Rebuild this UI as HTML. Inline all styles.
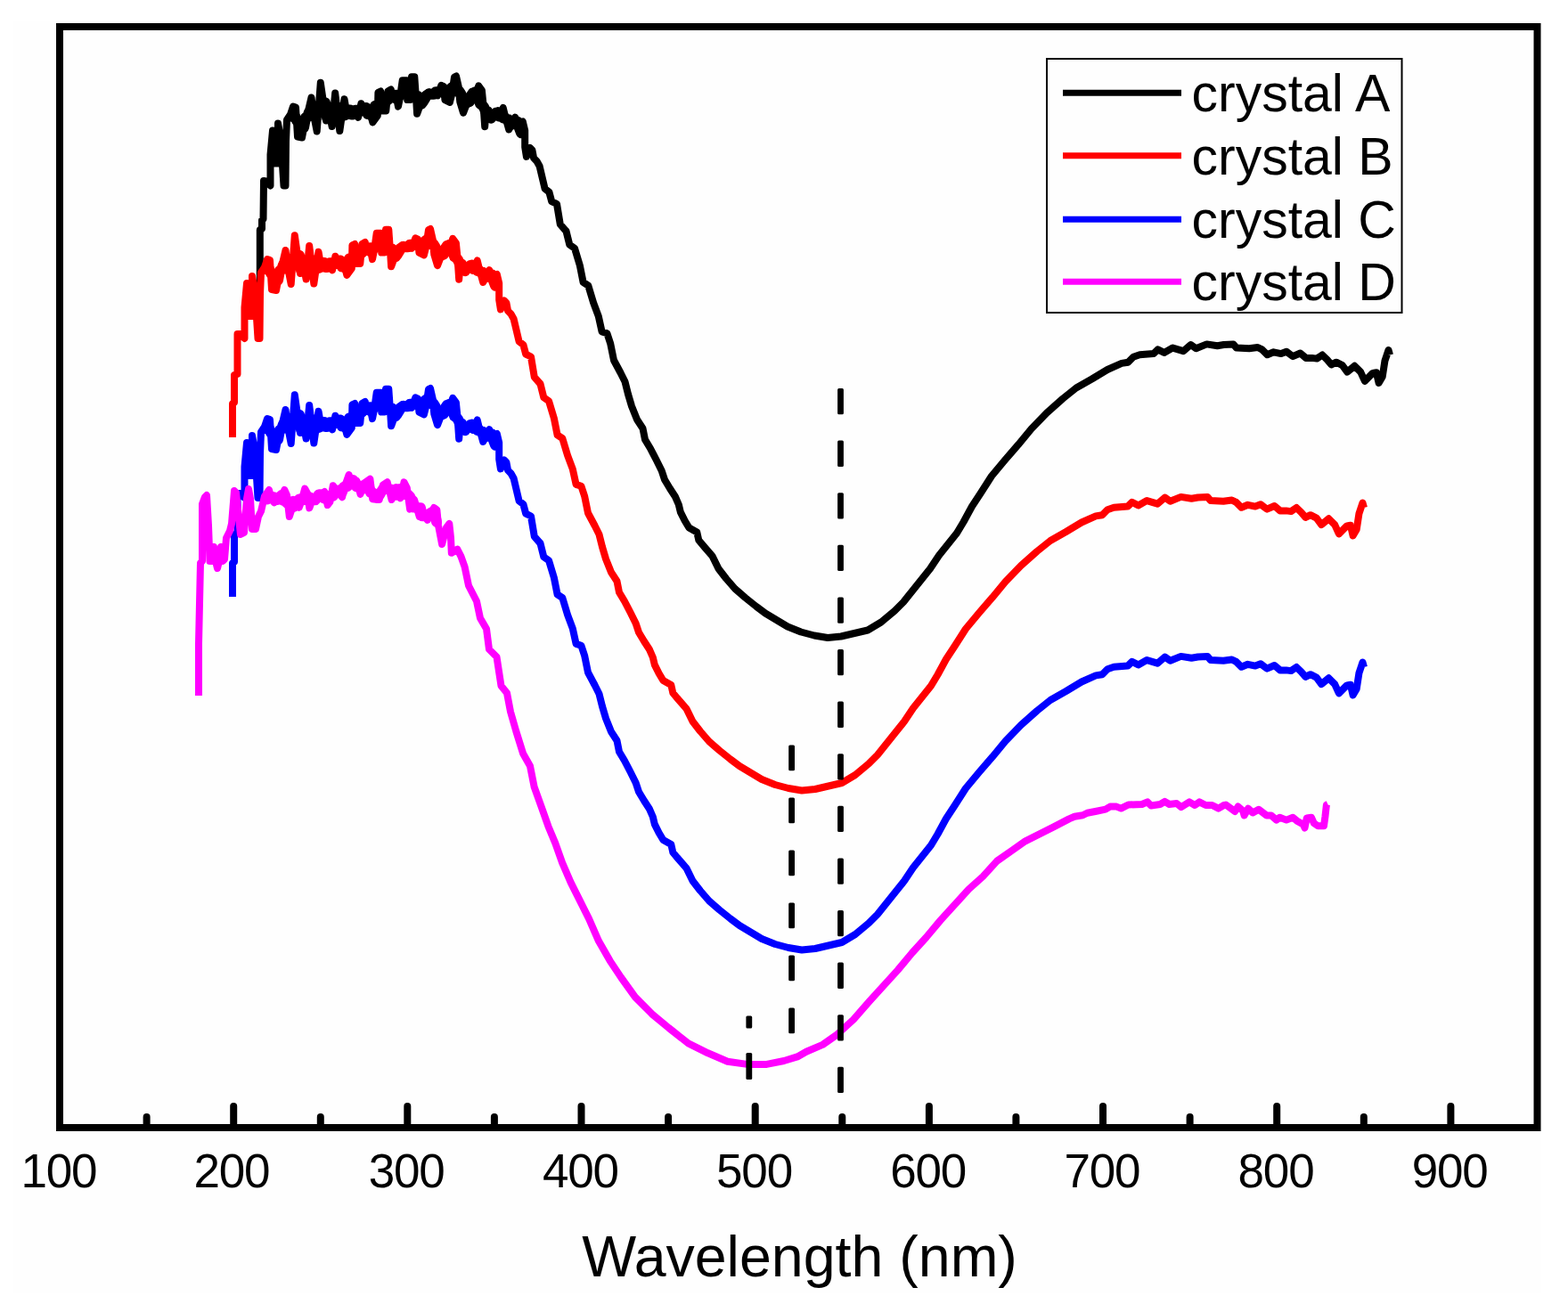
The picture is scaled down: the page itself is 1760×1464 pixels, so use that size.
<!DOCTYPE html>
<html><head><meta charset="utf-8"><title>Wavelength plot</title>
<style>
html,body{margin:0;padding:0;background:#fff;}
body{width:1760px;height:1464px;overflow:hidden;}
svg{display:block;}
</style></head>
<body>
<svg width="1760" height="1464" viewBox="0 0 1760 1464">
<rect x="0" y="0" width="1760" height="1464" fill="#ffffff"/>
<rect x="15" y="24" width="1715" height="1428" fill="#fefefe"/>
<polyline points="329.0,131.3 331.0,130.5 333.0,135.3 335.0,137.3 337.0,141.8 339.0,138.7 341.0,143.2 343.0,132.2 345.0,131.5 347.0,125.8 349.0,130.1 351.0,128.0 353.0,119.6 355.0,119.6 357.0,122.9 359.0,126.1 361.0,123.3 363.0,115.3 365.0,115.3 367.0,131.7 369.0,131.7 371.0,124.9 373.0,124.9 375.0,127.8 377.0,131.2 379.0,131.2 381.0,121.0 383.0,123.1 385.0,129.4 387.0,129.4 389.0,123.5 391.0,123.4 393.0,123.4 395.0,128.5 397.0,128.2 399.0,123.7 401.0,123.7 403.0,124.1 405.0,124.4 407.0,124.4 409.0,123.7 411.0,121.0 413.0,128.0 415.0,128.0 417.0,129.6 419.0,123.2 421.0,119.0 423.0,119.6 425.0,119.6 427.0,117.0 429.0,114.6 431.0,111.5 433.0,110.9 435.0,112.5 437.0,109.6 439.0,109.5 441.0,108.6 443.0,109.9 445.0,106.7 447.0,107.9 449.0,107.2 451.0,105.2 453.0,104.3 455.0,100.1 457.0,98.2 459.0,97.4 461.0,100.5 463.0,104.4 465.0,108.1 467.0,108.7 469.0,108.1 471.0,111.6 473.0,116.6 475.0,114.0 477.0,110.6 479.0,107.2 481.0,105.6 483.0,105.6 485.0,105.8 487.0,105.8 489.0,103.3 491.0,103.3 493.0,103.1 495.0,103.1 497.0,103.1 499.0,105.0 501.0,105.3 503.0,103.4 505.0,100.4 507.0,98.4 509.0,98.1 511.0,100.8 513.0,102.8 515.0,102.1 517.0,104.9 519.0,108.9 521.0,113.6 523.0,114.7 525.0,114.8 527.0,114.1 529.0,110.9 531.0,105.2 533.0,103.5 535.0,102.9 537.0,106.6 539.0,116.7 541.0,117.9 543.0,120.2 545.0,124.9 547.0,124.9 549.0,129.7 551.0,132.7 553.0,129.7 555.0,129.7 557.0,128.8 559.0,126.2 561.0,127.3 563.0,128.1 565.0,132.4 567.0,132.4 569.0,134.3 571.0,134.3 573.0,136.9 575.0,139.2 577.0,139.2 579.0,137.1 581.0,136.9 583.0,143.9 585.0,149.2" stroke="#000000" fill="none" stroke-width="12" stroke-linejoin="round" stroke-linecap="round"/>
<polyline points="291.8,319.3 291.8,258.0 294.0,257.0 294.0,247.0 295.5,246.0 296.0,203.0 298.5,203.5 303.5,208.5 303.5,173.5 306.0,146.5 308.0,183.5 312.0,183.5 312.0,138.5 315.0,154.5 318.5,208.5 320.5,208.5 321.0,158.5 322.0,134.5 326.0,128.5 329.0,119.5 332.0,120.5 334.0,153.5 339.0,154.5 342.0,138.5 345.5,126.5 349.5,109.5 352.0,128.5 355.7,147.5 359.8,92.8 366.0,135.5 368.0,117.5 372.6,142.0 376.2,104.5 381.3,147.1 386.5,111.3 389.7,129.5 391.7,129.8 396.5,123.0 402.0,131.9 405.4,116.2 409.4,125.1 414.2,121.7 418.3,137.3 423.8,129.8 424.4,103.9 427.2,102.5 429.2,124.4 433.3,124.4 435.4,102.5 438.8,100.5 440.8,110.8 444.9,109.4 447.0,119.6 449.0,109.4 451.7,90.3 456.5,90.3 457.2,112.1 460.6,112.1 462.0,86.2 465.3,86.2 467.4,116.2 468.1,127.8 470.8,120.3 472.8,112.1 476.3,106.7 481.7,103.3 485.8,106.7 491.2,107.4 495.3,95.8 498.1,97.1 499.4,112.1 504.9,114.9 507.0,106.5 510.0,86.5 512.0,85.5 514.7,97.2 516.3,114.4 520.0,126.7 522.9,119.3 524.5,110.3 529.4,102.9 532.7,111.1 537.2,96.4 540.9,101.3 542.5,117.7 544.2,142.3 545.0,131.6 549.9,131.6 555.6,125.1 559.7,132.4 564.7,121.0 567.1,130.8 571.2,145.5 574.5,139.8 578.2,131.6 581.0,139.8 586.8,136.5 589.2,146.4 589.2,165.2 590.9,175.9 595.0,166.0 597.4,168.5 599.1,177.5 602.4,180.8 605.6,186.5 611.6,211.8 616.4,215.6 619.2,226.1 625.0,229.0 628.8,251.9 635.5,259.5 639.3,274.8 645.0,278.7 650.8,297.8 654.6,316.9 660.3,320.7 666.1,339.9 671.8,355.2 675.6,372.4 681.4,374.3 685.2,385.8 689.0,404.5 696.5,418.5 701.5,428.5 705.0,442.5 709.0,456.0 715.0,471.0 721.5,481.0 724.0,493.5 730.0,503.5 736.5,516.0 742.7,528.5 746.0,538.5 752.0,548.5 757.7,557.2 761.8,566.5 763.8,574.9 768.6,584.5 773.4,592.5 782.3,597.5 784.3,606.5 790.5,613.9 799.4,624.1 806.5,638.5 815.0,649.5 825.0,661.0 836.5,671.0 849.0,681.0 859.0,688.5 869.0,694.5 884.0,703.5 899.0,709.5 914.0,713.5 929.0,716.0 944.0,714.5 959.0,711.0 974.0,707.5 989.0,698.5 1004.0,686.0 1014.0,676.0 1024.0,663.5 1034.0,651.0 1044.0,638.5 1054.0,623.5 1064.0,611.0 1074.0,598.5 1081.5,586.0 1091.0,568.5 1101.5,552.5 1113.0,534.5 1128.0,516.5 1143.0,499.2 1157.6,481.5 1175.0,463.5 1193.0,447.5 1208.0,435.5 1225.6,425.5 1243.0,415.0 1259.0,407.9 1266.2,406.7 1272.1,400.7 1279.3,398.3 1294.8,397.1 1299.6,392.4 1306.7,395.9 1316.3,390.6 1328.2,394.2 1336.6,387.0 1342.5,391.2 1354.5,386.4 1366.4,388.2 1373.6,387.0 1384.3,386.4 1387.9,390.6 1402.2,391.2 1411.7,390.0 1416.5,392.4 1422.5,398.3 1429.6,395.3 1438.0,397.1 1444.0,394.8 1451.1,400.1 1459.5,396.5 1465.8,401.9 1472.6,401.9 1478.1,402.6 1484.2,398.5 1489.7,403.9 1494.4,409.4 1499.9,406.7 1506.7,410.1 1512.2,417.6 1520.4,410.8 1527.2,417.6 1531.9,427.8 1540.8,418.9 1544.9,418.3 1547.6,429.9 1551.7,423.0 1554.4,405.3 1558.5,393.0 1560.0,398.5" stroke="#000000" fill="none" stroke-width="8" stroke-linejoin="round" stroke-linecap="butt"/>
<polyline points="300.0,302.8 302.0,302.0 304.0,306.8 306.0,308.8 308.0,313.2 310.0,310.2 312.0,314.8 314.0,303.8 316.0,303.0 318.0,297.2 320.0,301.6 322.0,299.5 324.0,291.1 326.0,291.1 328.0,294.4 330.0,297.6 332.0,294.8 334.0,286.8 336.0,286.8 338.0,303.2 340.0,303.2 342.0,296.4 344.0,296.4 346.0,299.3 348.0,302.7 350.0,302.7 352.0,292.5 354.0,294.6 356.0,300.9 358.0,300.9 360.0,295.0 362.0,294.9 364.0,294.9 366.0,300.0 368.0,299.7 370.0,295.2 372.0,295.2 374.0,295.6 376.0,295.9 378.0,295.9 380.0,295.2 382.0,292.5 384.0,299.5 386.0,299.5 388.0,301.1 390.0,294.7 392.0,290.5 394.0,291.1 396.0,291.1 398.0,288.5 400.0,286.1 402.0,283.0 404.0,282.4 406.0,284.0 408.0,281.1 410.0,281.0 412.0,280.1 414.0,281.4 416.0,278.2 418.0,279.4 420.0,278.7 422.0,276.7 424.0,275.8 426.0,271.6 428.0,269.7 430.0,268.9 432.0,272.0 434.0,275.9 436.0,279.6 438.0,280.2 440.0,279.6 442.0,283.1 444.0,288.1 446.0,285.5 448.0,282.1 450.0,278.7 452.0,277.1 454.0,277.1 456.0,277.3 458.0,277.3 460.0,274.8 462.0,274.8 464.0,274.6 466.0,274.6 468.0,274.6 470.0,276.5 472.0,276.8 474.0,274.9 476.0,271.9 478.0,269.9 480.0,269.6 482.0,272.3 484.0,274.3 486.0,273.6 488.0,276.4 490.0,280.4 492.0,285.1 494.0,286.2 496.0,286.3 498.0,285.6 500.0,282.4 502.0,276.7 504.0,275.0 506.0,274.4 508.0,278.1 510.0,288.2 512.0,289.4 514.0,291.7 516.0,296.4 518.0,296.4 520.0,301.2 522.0,304.2 524.0,301.2 526.0,301.2 528.0,300.2 530.0,297.7 532.0,298.8 534.0,299.6 536.0,303.9 538.0,303.9 540.0,305.8 542.0,305.8 544.0,308.4 546.0,310.7 548.0,310.7 550.0,308.6 552.0,308.4 554.0,315.4 556.0,320.7" stroke="#ff0000" fill="none" stroke-width="12" stroke-linejoin="round" stroke-linecap="round"/>
<polyline points="261.0,491.0 261.0,453.0 263.0,452.0 263.0,421.0 266.5,420.0 266.5,375.0 269.5,375.0 274.5,380.0 274.5,345.0 277.0,318.0 279.0,355.0 283.0,355.0 283.0,310.0 286.0,326.0 289.5,380.0 291.5,380.0 292.0,330.0 293.0,306.0 297.0,300.0 300.0,291.0 303.0,292.0 305.0,325.0 310.0,326.0 313.0,310.0 316.5,298.0 320.5,281.0 323.0,300.0 326.7,319.0 330.8,264.3 337.0,307.0 339.0,289.0 343.6,313.5 347.2,276.0 352.3,318.6 357.5,282.8 360.7,301.0 362.7,301.3 367.5,294.5 373.0,303.4 376.4,287.7 380.4,296.6 385.2,293.2 389.3,308.8 394.8,301.3 395.4,275.4 398.2,274.0 400.2,295.9 404.3,295.9 406.4,274.0 409.8,272.0 411.8,282.3 415.9,280.9 418.0,291.1 420.0,280.9 422.7,261.8 427.5,261.8 428.2,283.6 431.6,283.6 433.0,257.7 436.3,257.7 438.4,287.7 439.1,299.3 441.8,291.8 443.8,283.6 447.3,278.2 452.7,274.8 456.8,278.2 462.2,278.9 466.3,267.3 469.1,268.6 470.4,283.6 475.9,286.4 478.0,278.0 481.0,258.0 483.0,257.0 485.7,268.7 487.3,285.9 491.0,298.2 493.9,290.8 495.5,281.8 500.4,274.4 503.7,282.6 508.2,267.9 511.9,272.8 513.5,289.2 515.2,313.8 516.0,303.1 520.9,303.1 526.6,296.6 530.7,303.9 535.7,292.5 538.1,302.3 542.2,317.0 545.5,311.3 549.2,303.1 552.0,311.3 557.8,308.0 560.2,317.9 560.2,336.7 561.9,347.4 566.0,337.5 568.4,340.0 570.1,349.0 573.4,352.3 576.6,358.0 582.6,383.3 587.4,387.1 590.2,397.6 596.0,400.5 599.8,423.4 606.5,431.0 610.3,446.3 616.0,450.2 621.8,469.3 625.6,488.4 631.3,492.2 637.1,511.4 642.8,526.7 646.6,543.9 652.4,545.8 656.2,557.3 660.0,576.0 667.5,590.0 672.5,600.0 676.0,614.0 680.0,627.5 686.0,642.5 692.5,652.5 695.0,665.0 701.0,675.0 707.5,687.5 713.7,700.0 717.0,710.0 723.0,720.0 728.7,728.7 732.8,738.0 734.8,746.4 739.6,756.0 744.4,764.0 753.3,769.0 755.3,778.0 761.5,785.4 770.4,795.6 777.5,810.0 786.0,821.0 796.0,832.5 807.5,842.5 820.0,852.5 830.0,860.0 840.0,866.0 855.0,875.0 870.0,881.0 885.0,885.0 900.0,887.5 915.0,886.0 930.0,882.5 945.0,879.0 960.0,870.0 975.0,857.5 985.0,847.5 995.0,835.0 1005.0,822.5 1015.0,810.0 1025.0,795.0 1035.0,782.5 1045.0,770.0 1052.5,757.5 1062.0,740.0 1072.5,724.0 1084.0,706.0 1099.0,688.0 1114.0,670.7 1128.6,653.0 1146.0,635.0 1164.0,619.0 1179.0,607.0 1196.6,597.0 1214.0,586.5 1230.0,579.4 1237.2,578.2 1243.1,572.2 1250.3,569.8 1265.8,568.6 1270.6,563.9 1277.7,567.4 1287.3,562.1 1299.2,565.7 1307.6,558.5 1313.5,562.7 1325.5,557.9 1337.4,559.7 1344.6,558.5 1355.3,557.9 1358.9,562.1 1373.2,562.7 1382.7,561.5 1387.5,563.9 1393.5,569.8 1400.6,566.8 1409.0,568.6 1415.0,566.3 1422.1,571.6 1430.5,568.0 1436.8,573.4 1443.6,573.4 1449.1,574.1 1455.2,570.0 1460.7,575.4 1465.4,580.9 1470.9,578.2 1477.7,581.6 1483.2,589.1 1491.4,582.3 1498.2,589.1 1502.9,599.3 1511.8,590.4 1515.9,589.8 1518.6,601.4 1522.7,594.5 1525.4,576.8 1529.5,564.5 1531.0,570.0" stroke="#ff0000" fill="none" stroke-width="8" stroke-linejoin="round" stroke-linecap="butt"/>
<polyline points="300.0,481.8 302.0,481.0 304.0,485.8 306.0,487.8 308.0,492.2 310.0,489.2 312.0,493.8 314.0,482.8 316.0,482.0 318.0,476.2 320.0,480.6 322.0,478.5 324.0,470.1 326.0,470.1 328.0,473.4 330.0,476.6 332.0,473.8 334.0,465.8 336.0,465.8 338.0,482.2 340.0,482.2 342.0,475.4 344.0,475.4 346.0,478.3 348.0,481.7 350.0,481.7 352.0,471.5 354.0,473.6 356.0,479.9 358.0,479.9 360.0,474.0 362.0,473.9 364.0,473.9 366.0,479.0 368.0,478.7 370.0,474.2 372.0,474.2 374.0,474.6 376.0,474.9 378.0,474.9 380.0,474.2 382.0,471.5 384.0,478.5 386.0,478.5 388.0,480.1 390.0,473.7 392.0,469.5 394.0,470.1 396.0,470.1 398.0,467.5 400.0,465.1 402.0,462.0 404.0,461.4 406.0,463.0 408.0,460.1 410.0,460.0 412.0,459.1 414.0,460.4 416.0,457.2 418.0,458.4 420.0,457.7 422.0,455.7 424.0,454.8 426.0,450.6 428.0,448.7 430.0,447.9 432.0,451.0 434.0,454.9 436.0,458.6 438.0,459.2 440.0,458.6 442.0,462.1 444.0,467.1 446.0,464.5 448.0,461.1 450.0,457.7 452.0,456.1 454.0,456.1 456.0,456.3 458.0,456.3 460.0,453.8 462.0,453.8 464.0,453.6 466.0,453.6 468.0,453.6 470.0,455.5 472.0,455.8 474.0,453.9 476.0,450.9 478.0,448.9 480.0,448.6 482.0,451.3 484.0,453.3 486.0,452.6 488.0,455.4 490.0,459.4 492.0,464.1 494.0,465.2 496.0,465.3 498.0,464.6 500.0,461.4 502.0,455.7 504.0,454.0 506.0,453.4 508.0,457.1 510.0,467.2 512.0,468.4 514.0,470.7 516.0,475.4 518.0,475.4 520.0,480.2 522.0,483.2 524.0,480.2 526.0,480.2 528.0,479.2 530.0,476.7 532.0,477.8 534.0,478.6 536.0,482.9 538.0,482.9 540.0,484.8 542.0,484.8 544.0,487.4 546.0,489.7 548.0,489.7 550.0,487.6 552.0,487.4 554.0,494.4 556.0,499.7" stroke="#0000ff" fill="none" stroke-width="12" stroke-linejoin="round" stroke-linecap="round"/>
<polyline points="261.0,670.0 261.0,632.0 263.0,631.0 263.0,600.0 266.5,599.0 266.5,554.0 269.5,554.0 274.5,559.0 274.5,524.0 277.0,497.0 279.0,534.0 283.0,534.0 283.0,489.0 286.0,505.0 289.5,559.0 291.5,559.0 292.0,509.0 293.0,485.0 297.0,479.0 300.0,470.0 303.0,471.0 305.0,504.0 310.0,505.0 313.0,489.0 316.5,477.0 320.5,460.0 323.0,479.0 326.7,498.0 330.8,443.3 337.0,486.0 339.0,468.0 343.6,492.5 347.2,455.0 352.3,497.6 357.5,461.8 360.7,480.0 362.7,480.3 367.5,473.5 373.0,482.4 376.4,466.7 380.4,475.6 385.2,472.2 389.3,487.8 394.8,480.3 395.4,454.4 398.2,453.0 400.2,474.9 404.3,474.9 406.4,453.0 409.8,451.0 411.8,461.3 415.9,459.9 418.0,470.1 420.0,459.9 422.7,440.8 427.5,440.8 428.2,462.6 431.6,462.6 433.0,436.7 436.3,436.7 438.4,466.7 439.1,478.3 441.8,470.8 443.8,462.6 447.3,457.2 452.7,453.8 456.8,457.2 462.2,457.9 466.3,446.3 469.1,447.6 470.4,462.6 475.9,465.4 478.0,457.0 481.0,437.0 483.0,436.0 485.7,447.7 487.3,464.9 491.0,477.2 493.9,469.8 495.5,460.8 500.4,453.4 503.7,461.6 508.2,446.9 511.9,451.8 513.5,468.2 515.2,492.8 516.0,482.1 520.9,482.1 526.6,475.6 530.7,482.9 535.7,471.5 538.1,481.3 542.2,496.0 545.5,490.3 549.2,482.1 552.0,490.3 557.8,487.0 560.2,496.9 560.2,515.7 561.9,526.4 566.0,516.5 568.4,519.0 570.1,528.0 573.4,531.3 576.6,537.0 582.6,562.3 587.4,566.1 590.2,576.6 596.0,579.5 599.8,602.4 606.5,610.0 610.3,625.3 616.0,629.2 621.8,648.3 625.6,667.4 631.3,671.2 637.1,690.4 642.8,705.7 646.6,722.9 652.4,724.8 656.2,736.3 660.0,755.0 667.5,769.0 672.5,779.0 676.0,793.0 680.0,806.5 686.0,821.5 692.5,831.5 695.0,844.0 701.0,854.0 707.5,866.5 713.7,879.0 717.0,889.0 723.0,899.0 728.7,907.7 732.8,917.0 734.8,925.4 739.6,935.0 744.4,943.0 753.3,948.0 755.3,957.0 761.5,964.4 770.4,974.6 777.5,989.0 786.0,1000.0 796.0,1011.5 807.5,1021.5 820.0,1031.5 830.0,1039.0 840.0,1045.0 855.0,1054.0 870.0,1060.0 885.0,1064.0 900.0,1066.5 915.0,1065.0 930.0,1061.5 945.0,1058.0 960.0,1049.0 975.0,1036.5 985.0,1026.5 995.0,1014.0 1005.0,1001.5 1015.0,989.0 1025.0,974.0 1035.0,961.5 1045.0,949.0 1052.5,936.5 1062.0,919.0 1072.5,903.0 1084.0,885.0 1099.0,867.0 1114.0,849.7 1128.6,832.0 1146.0,814.0 1164.0,798.0 1179.0,786.0 1196.6,776.0 1214.0,765.5 1230.0,758.4 1237.2,757.2 1243.1,751.2 1250.3,748.8 1265.8,747.6 1270.6,742.9 1277.7,746.4 1287.3,741.1 1299.2,744.7 1307.6,737.5 1313.5,741.7 1325.5,736.9 1337.4,738.7 1344.6,737.5 1355.3,736.9 1358.9,741.1 1373.2,741.7 1382.7,740.5 1387.5,742.9 1393.5,748.8 1400.6,745.8 1409.0,747.6 1415.0,745.3 1422.1,750.6 1430.5,747.0 1436.8,752.4 1443.6,752.4 1449.1,753.1 1455.2,749.0 1460.7,754.4 1465.4,759.9 1470.9,757.2 1477.7,760.6 1483.2,768.1 1491.4,761.3 1498.2,768.1 1502.9,778.3 1511.8,769.4 1515.9,768.8 1518.6,780.4 1522.7,773.5 1525.4,755.8 1529.5,743.5 1531.0,749.0" stroke="#0000ff" fill="none" stroke-width="8" stroke-linejoin="round" stroke-linecap="butt"/>
<polyline points="300.0,560.5 302.0,558.1 304.0,557.8 306.0,558.0 308.0,558.7 310.0,560.9 312.0,560.9 314.0,558.2 316.0,556.1 318.0,561.9 320.0,561.9 322.0,564.5 324.0,563.7 326.0,563.4 328.0,566.1 330.0,568.8 332.0,565.3 334.0,565.3 336.0,560.6 338.0,560.6 340.0,559.3 342.0,561.0 344.0,559.3 346.0,558.5 348.0,558.5 350.0,560.9 352.0,560.9 354.0,561.2 356.0,558.2 358.0,555.2 360.0,555.2 362.0,558.1 364.0,559.5 366.0,559.5 368.0,557.0 370.0,557.0 372.0,556.5 374.0,556.5 376.0,552.9 378.0,551.1 380.0,550.5 382.0,552.3 384.0,552.3 386.0,546.6 388.0,545.9 390.0,545.9 392.0,541.8 394.0,538.9 396.0,538.9 398.0,542.9 400.0,546.2 402.0,545.2 404.0,545.7 406.0,545.7 408.0,548.6 410.0,545.0 412.0,546.8 414.0,546.8 416.0,552.9 418.0,552.9 420.0,555.0 422.0,555.0 424.0,556.7 426.0,555.5 428.0,552.0 430.0,549.0 432.0,549.0 434.0,549.0 436.0,549.0 438.0,549.8 440.0,549.8 442.0,554.0 444.0,555.8 446.0,555.8 448.0,549.2 450.0,548.9 452.0,549.5 454.0,555.0 456.0,555.0 458.0,555.5 460.0,557.5 462.0,561.6 464.0,569.6 466.0,569.6 468.0,570.2 470.0,570.2 472.0,570.2 474.0,579.3 476.0,579.3 478.0,579.0 480.0,579.0 482.0,577.0 484.0,575.5 486.0,579.0 488.0,577.4 490.0,585.8" stroke="#ff00ff" fill="none" stroke-width="12" stroke-linejoin="round" stroke-linecap="round"/>
<polyline points="223.0,781.0 223.0,722.5 225.0,632.0 227.0,630.0 227.0,566.0 230.0,558.0 232.0,556.0 234.0,590.0 235.5,630.0 238.0,630.0 240.0,614.0 242.0,630.0 244.0,638.0 246.0,630.0 248.0,614.0 250.0,630.0 252.0,628.0 254.0,604.0 258.0,596.0 260.0,588.0 263.0,551.0 265.0,553.0 270.0,600.0 274.0,598.0 277.0,560.0 279.0,549.0 281.0,560.0 283.0,594.0 287.0,594.0 290.0,580.0 293.0,574.0 297.0,557.0 302.0,550.0 305.0,561.0 307.7,564.3 309.8,556.8 314.5,561.6 319.3,550.0 322.0,556.0 324.8,580.0 327.5,571.8 329.5,560.9 333.0,561.6 335.7,569.8 338.4,562.3 342.2,548.6 345.2,554.1 347.3,570.4 350.7,560.9 355.4,558.2 359.5,555.4 364.3,552.0 367.7,567.0 370.4,563.6 373.8,545.2 377.3,550.0 384.1,558.2 386.1,548.6 391.6,533.0 395.0,543.9 400.4,539.8 404.5,554.8 408.6,542.5 415.4,537.7 418.2,560.2 422.2,560.9 425.7,561.0 429.8,544.6 434.7,541.3 439.6,561.0 444.5,547.0 449.4,559.3 453.5,541.3 456.8,547.9 460.1,571.6 465.0,561.0 466.6,565.9 470.7,579.8 474.0,574.1 479.8,583.9 487.1,570.0 490.4,572.5 492.0,589.7 496.1,611.0 501.1,592.1 504.3,588.0 506.0,603.6 506.8,620.8 513.4,616.7 517.5,624.9 521.6,636.4 526.0,657.5 535.0,675.0 539.0,694.0 546.0,706.0 549.0,729.0 557.5,737.5 562.5,770.0 569.0,778.0 573.0,799.0 579.3,821.0 587.1,846.0 595.0,860.0 599.7,883.7 607.6,905.7 615.4,927.7 623.3,946.6 631.1,968.6 640.6,990.6 650.0,1009.4 661.0,1031.4 672.0,1056.6 684.6,1078.6 697.1,1097.4 712.9,1119.4 731.7,1138.3 750.6,1154.0 772.6,1171.3 794.6,1182.3 816.6,1191.7 838.6,1194.9 860.6,1194.9 880.0,1191.0 895.0,1186.4 905.0,1180.7 923.4,1172.9 939.1,1161.9 958.0,1144.6 975.9,1124.1 991.8,1106.6 1007.7,1089.1 1023.6,1070.0 1039.5,1052.5 1055.5,1033.4 1071.4,1015.9 1087.3,998.4 1103.2,984.1 1119.1,966.6 1135.0,955.5 1150.9,944.3 1166.8,936.4 1182.7,928.4 1200.0,919.4 1206.1,916.8 1215.3,915.3 1220.4,912.7 1230.7,910.7 1240.9,908.6 1246.0,905.6 1253.2,905.6 1258.3,907.6 1266.5,903.5 1281.8,903.0 1287.9,900.4 1292.0,904.5 1302.2,903.0 1307.4,899.9 1312.5,903.0 1320.7,902.0 1325.8,906.1 1335.0,900.4 1341.1,904.0 1346.2,900.4 1353.4,904.0 1360.5,904.0 1367.7,907.6 1373.8,904.0 1375.9,903.6 1381.1,907.3 1386.2,911.0 1389.6,905.5 1395.1,910.3 1396.6,915.5 1401.0,907.7 1406.2,912.5 1412.8,908.8 1421.7,915.5 1426.9,915.5 1432.8,920.6 1436.5,917.7 1443.9,920.6 1451.2,917.7 1456.4,922.1 1463.0,925.8 1464.5,929.5 1466.8,918.4 1471.9,917.7 1474.9,924.3 1479.3,927.3 1486.0,927.3 1487.4,917.0 1488.9,903.6 1490.4,902.9" stroke="#ff00ff" fill="none" stroke-width="8" stroke-linejoin="round" stroke-linecap="butt"/>
<rect x="940.1" y="436.0" width="6.8" height="29.3" rx="1.5" fill="#000"/><rect x="940.1" y="494.6" width="6.8" height="29.3" rx="1.5" fill="#000"/><rect x="940.1" y="553.2" width="6.8" height="29.3" rx="1.5" fill="#000"/><rect x="940.1" y="611.8" width="6.8" height="29.3" rx="1.5" fill="#000"/><rect x="940.1" y="670.4" width="6.8" height="29.3" rx="1.5" fill="#000"/><rect x="940.1" y="729.0" width="6.8" height="29.3" rx="1.5" fill="#000"/><rect x="940.1" y="787.6" width="6.8" height="29.3" rx="1.5" fill="#000"/><rect x="940.1" y="846.2" width="6.8" height="29.3" rx="1.5" fill="#000"/><rect x="940.1" y="904.8" width="6.8" height="29.3" rx="1.5" fill="#000"/><rect x="940.1" y="963.4" width="6.8" height="29.3" rx="1.5" fill="#000"/><rect x="940.1" y="1022.0" width="6.8" height="29.3" rx="1.5" fill="#000"/><rect x="940.1" y="1080.6" width="6.8" height="29.3" rx="1.5" fill="#000"/><rect x="940.1" y="1139.2" width="6.8" height="29.3" rx="1.5" fill="#000"/><rect x="940.1" y="1197.8" width="6.8" height="29.3" rx="1.5" fill="#000"/>
<rect x="885.2" y="836.6" width="6.8" height="28.6" rx="1.5" fill="#000"/><rect x="885.2" y="895.6" width="6.8" height="28.6" rx="1.5" fill="#000"/><rect x="885.2" y="954.6" width="6.8" height="28.6" rx="1.5" fill="#000"/><rect x="885.2" y="1013.6" width="6.8" height="28.6" rx="1.5" fill="#000"/><rect x="885.2" y="1072.6" width="6.8" height="28.6" rx="1.5" fill="#000"/><rect x="885.2" y="1131.6" width="6.8" height="28.6" rx="1.5" fill="#000"/>
<rect x="837.4" y="1140.5" width="6.8" height="13.9" rx="1.5" fill="#000"/><rect x="837.4" y="1182.0" width="6.8" height="30.0" rx="1.5" fill="#000"/>
<rect x="67" y="30" width="1658.5" height="1236" fill="none" stroke="#000" stroke-width="8"/>
<line x1="164.6" y1="1266" x2="164.6" y2="1254" stroke="#000" stroke-width="8" stroke-linecap="round"/><line x1="262.2" y1="1266" x2="262.2" y2="1242" stroke="#000" stroke-width="8" stroke-linecap="round"/><line x1="359.8" y1="1266" x2="359.8" y2="1254" stroke="#000" stroke-width="8" stroke-linecap="round"/><line x1="457.3" y1="1266" x2="457.3" y2="1242" stroke="#000" stroke-width="8" stroke-linecap="round"/><line x1="554.9" y1="1266" x2="554.9" y2="1254" stroke="#000" stroke-width="8" stroke-linecap="round"/><line x1="652.5" y1="1266" x2="652.5" y2="1242" stroke="#000" stroke-width="8" stroke-linecap="round"/><line x1="750.1" y1="1266" x2="750.1" y2="1254" stroke="#000" stroke-width="8" stroke-linecap="round"/><line x1="847.7" y1="1266" x2="847.7" y2="1242" stroke="#000" stroke-width="8" stroke-linecap="round"/><line x1="945.3" y1="1266" x2="945.3" y2="1254" stroke="#000" stroke-width="8" stroke-linecap="round"/><line x1="1042.9" y1="1266" x2="1042.9" y2="1242" stroke="#000" stroke-width="8" stroke-linecap="round"/><line x1="1140.4" y1="1266" x2="1140.4" y2="1254" stroke="#000" stroke-width="8" stroke-linecap="round"/><line x1="1238.0" y1="1266" x2="1238.0" y2="1242" stroke="#000" stroke-width="8" stroke-linecap="round"/><line x1="1335.6" y1="1266" x2="1335.6" y2="1254" stroke="#000" stroke-width="8" stroke-linecap="round"/><line x1="1433.2" y1="1266" x2="1433.2" y2="1242" stroke="#000" stroke-width="8" stroke-linecap="round"/><line x1="1530.8" y1="1266" x2="1530.8" y2="1254" stroke="#000" stroke-width="8" stroke-linecap="round"/><line x1="1628.4" y1="1266" x2="1628.4" y2="1242" stroke="#000" stroke-width="8" stroke-linecap="round"/>
<g font-family="Liberation Sans, Arial, sans-serif" font-size="53" letter-spacing="-1.2" fill="#000"><text x="65.8" y="1332.5" text-anchor="middle">100</text><text x="259.8" y="1332.5" text-anchor="middle">200</text><text x="456.1" y="1332.5" text-anchor="middle">300</text><text x="651.3" y="1332.5" text-anchor="middle">400</text><text x="846.5" y="1332.5" text-anchor="middle">500</text><text x="1041.7" y="1332.5" text-anchor="middle">600</text><text x="1236.8" y="1332.5" text-anchor="middle">700</text><text x="1432.0" y="1332.5" text-anchor="middle">800</text><text x="1627.2" y="1332.5" text-anchor="middle">900</text></g>
<text x="897.5" y="1433" text-anchor="middle" font-family="Liberation Sans, Arial, sans-serif" font-size="64.5" fill="#000">Wavelength (nm)</text>
<rect x="1175" y="66" width="398.5" height="285" fill="none" stroke="#000" stroke-width="2"/>
<g font-family="Liberation Sans, Arial, sans-serif" font-size="59" fill="#000"><line x1="1193" y1="104.3" x2="1326" y2="104.3" stroke="#000000" stroke-width="7"/><text x="1337.5" y="125">crystal A</text><line x1="1193" y1="174.8" x2="1326" y2="174.8" stroke="#ff0000" stroke-width="7"/><text x="1337.5" y="195.8">crystal B</text><line x1="1193" y1="246.3" x2="1326" y2="246.3" stroke="#0000ff" stroke-width="7"/><text x="1337.5" y="266.6">crystal C</text><line x1="1193" y1="316.3" x2="1326" y2="316.3" stroke="#ff00ff" stroke-width="7"/><text x="1337.5" y="337">crystal D</text></g>
</svg>
</body></html>
